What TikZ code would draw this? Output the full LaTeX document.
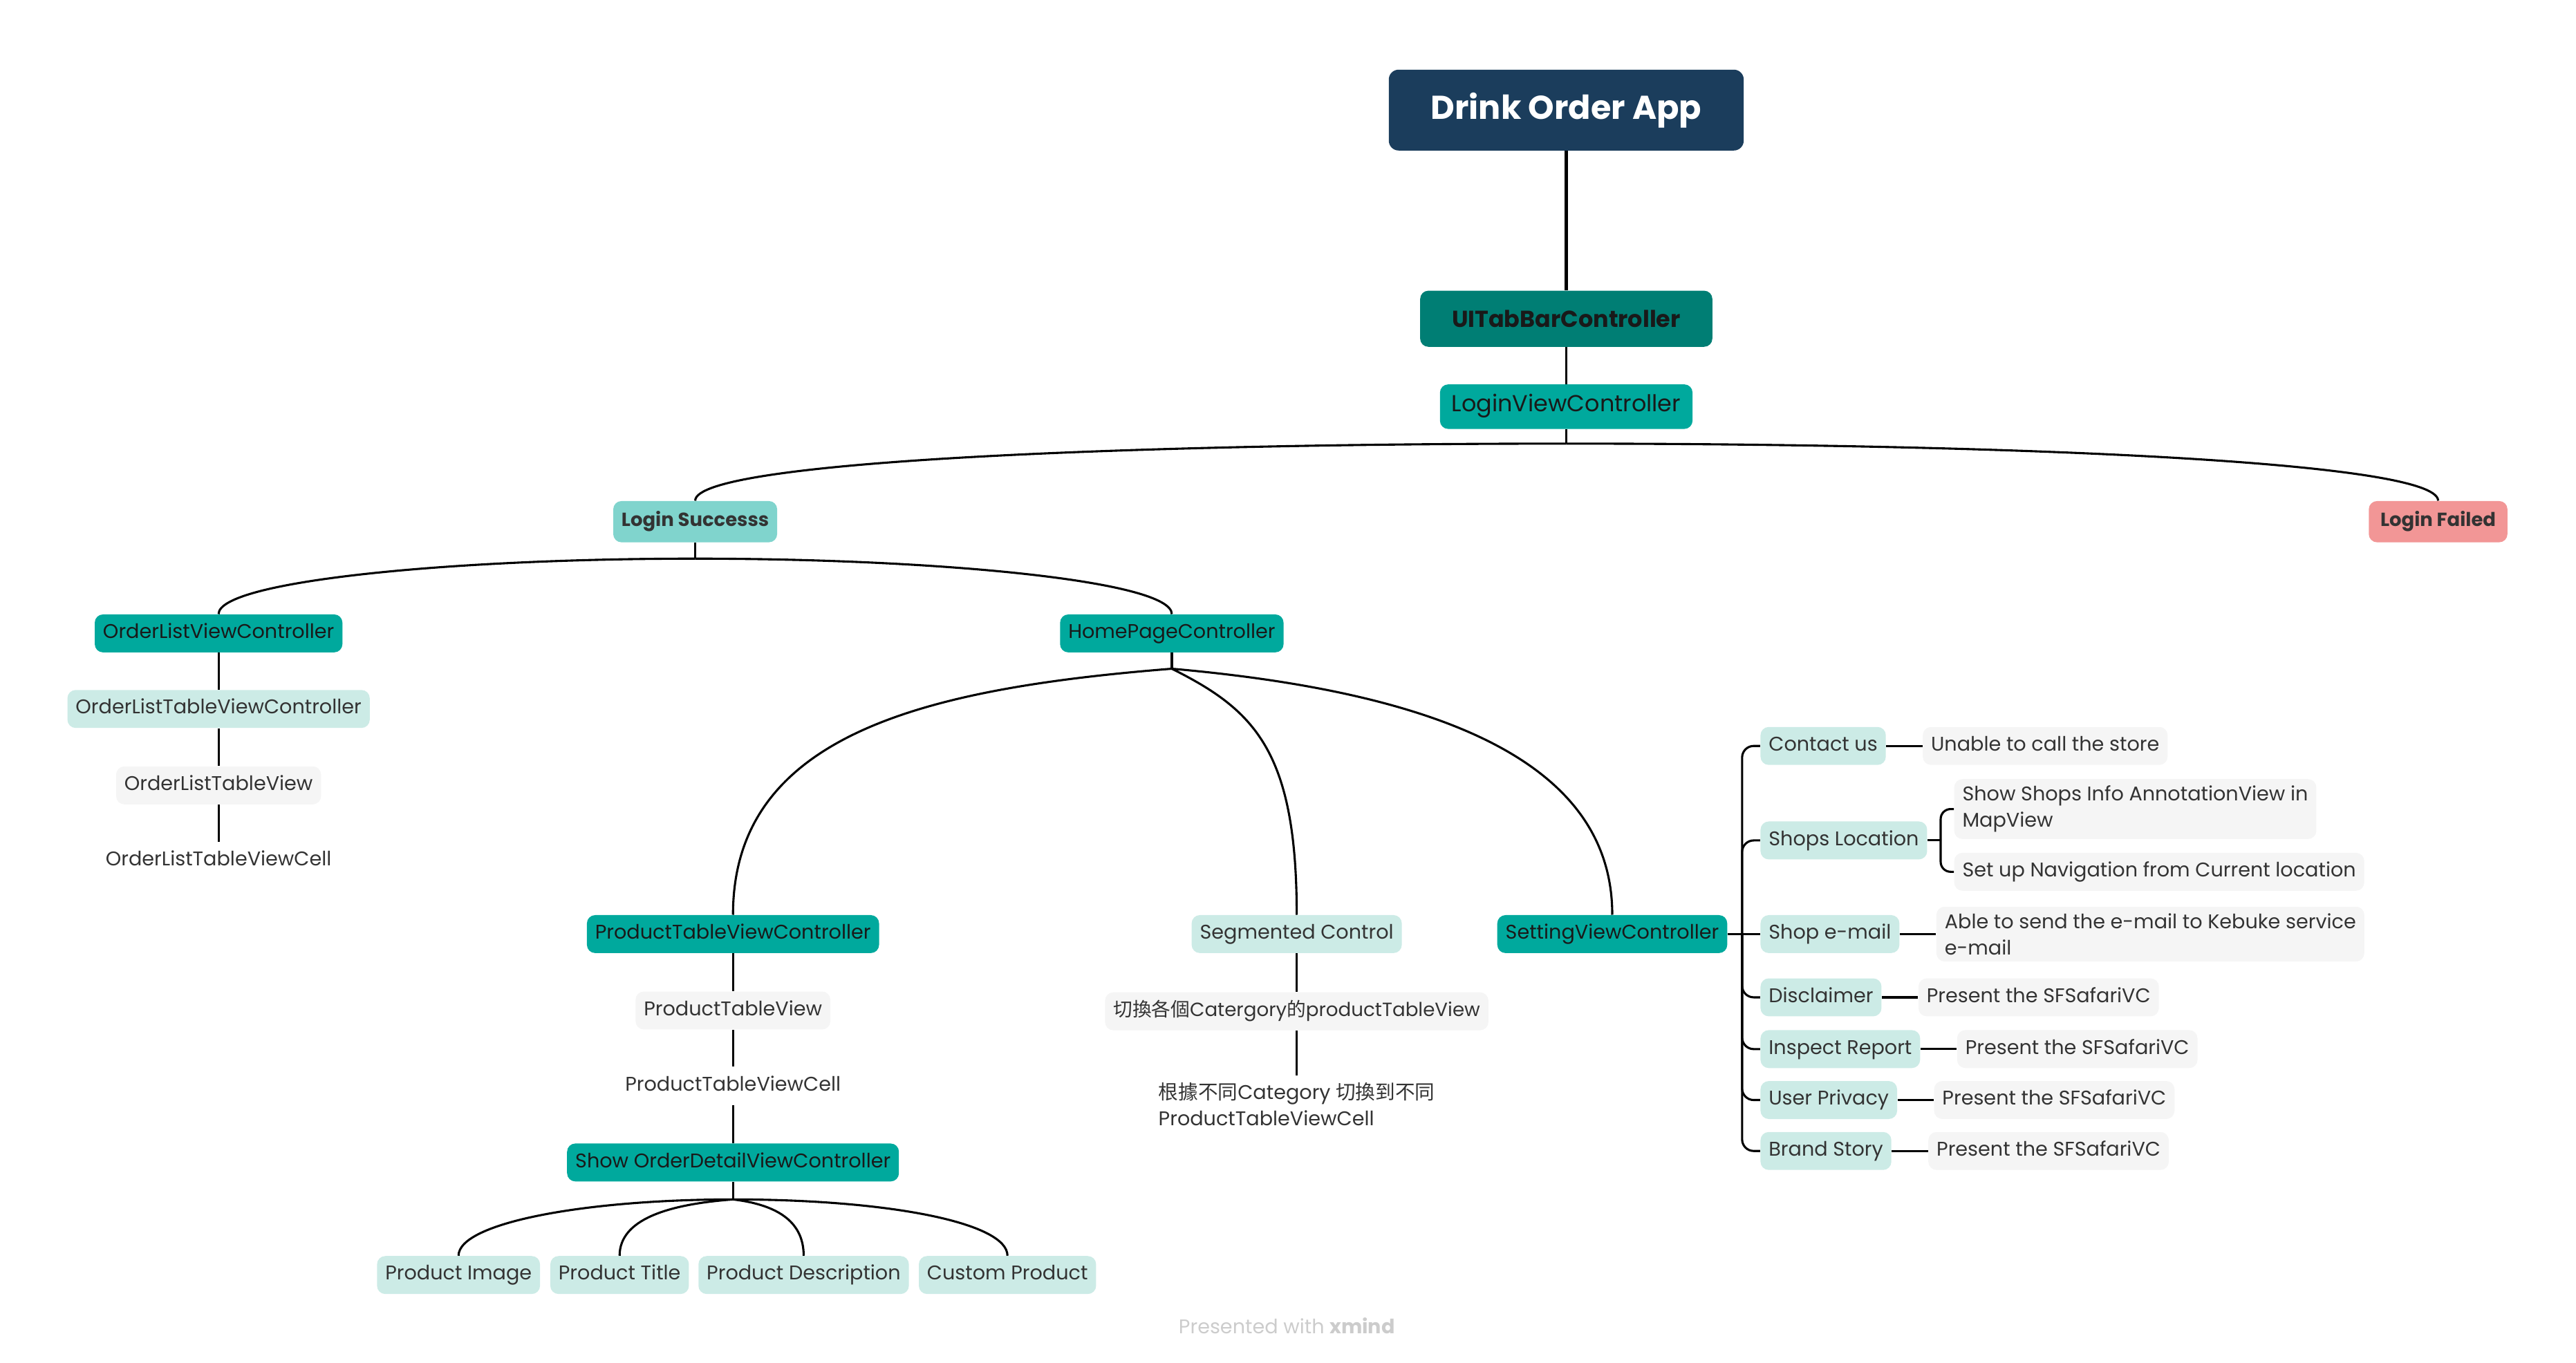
\documentclass[tikz,border=0pt]{standalone}
\usepackage{fontspec}
\setmainfont{Poppins}
\newfontfamily\cjk{Noto Sans CJK TC}
\usetikzlibrary{positioning}

\definecolor{navy}{HTML}{1B3D5C}
\definecolor{tealdark}{HTML}{007E74}
\definecolor{tealmain}{HTML}{00A99D}
\definecolor{tealsoft}{HTML}{80D4CD}
\definecolor{tealpale}{HTML}{CCEBE6}
\definecolor{rosy}{HTML}{F29696}
\definecolor{leafgrey}{HTML}{F5F5F5}
\definecolor{inktext}{HTML}{333333}

\tikzset{
	topic/.style={rounded corners=5pt, inner xsep=5pt, inner ysep=0pt, minimum height=23pt, text height=8.6pt, text depth=2.6pt, font=\fontsize{12}{14}\selectfont, text=inktext},
	ctrlbox/.style={topic, fill=tealmain, text=black!90},
	palebox/.style={topic, fill=tealpale},
	greybox/.style={topic, fill=leafgrey},
	barebox/.style={topic},
	notebox/.style={rounded corners=5pt, inner xsep=5pt, inner ysep=4pt, align=left, font=\fontsize{12}{16}\selectfont, text=inktext},
	link/.style={line width=1.3pt},
}

\begin{document}
\begin{tikzpicture}[x=0.9955pt, y=-0.9955pt]
				\useasboundingbox (0,0) rectangle (1567.4,829.5);
				
				% Junction points
				\coordinate (j0) at (953,270);
				\coordinate (j1) at (423,340);
				\coordinate (j2) at (713,407);
				\coordinate (j3) at (446,730);
				\coordinate (j4) at (1060,568.5);
				
				% Top of the tree
				\node[rounded corners=6pt, fill=navy, text=white, font=\fontsize{20}{24}\selectfont\bfseries, minimum width=215pt, minimum height=49pt] (root) at (953,67) {Drink Order App};
				\node[rounded corners=5pt, fill=tealdark, text=black!90, font=\fontsize{14}{17}\selectfont\bfseries, minimum width=177pt, minimum height=34pt] (tab) at (953,194) {UITabBarController};
				\node[ctrlbox, font=\fontsize{14}{17}\selectfont, minimum width=153pt, minimum height=27pt] (login) at (953,247.5) {LoginViewController};
				
				% Login result
				\node[topic, fill=tealsoft, font=\fontsize{11.5}{14}\selectfont\bfseries, minimum height=25pt] (ls) at (423,317.5) {Login Successs};
				\node[topic, fill=rosy, font=\fontsize{11.5}{14}\selectfont\bfseries, minimum height=25pt, inner xsep=7pt] (lf) at (1483.5,317.5) {Login Failed};
				
				% Order list branch
				\node[ctrlbox] (olvc) at (133,385.5) {OrderListViewController};
				\node[palebox] (oltvc) at (133,431.5) {OrderListTableViewController};
				\node[greybox] (oltv) at (133,478) {OrderListTableView};
				\node[barebox] (oltvcell) at (133,524) {OrderListTableViewCell};
				
				% Home page branch
				\node[ctrlbox] (hpc) at (713,385.5) {HomePageController};
				\node[ctrlbox] (ptvc) at (446,568.5) {ProductTableViewController};
				\node[greybox] (ptv) at (446,615) {ProductTableView};
				\node[barebox] (ptvcell) at (446,661) {ProductTableViewCell};
				\node[ctrlbox] (sodvc) at (446,707.5) {Show OrderDetailViewController};
				\node[palebox] (pimg) at (279,776) {Product Image};
				\node[palebox] (ptitle) at (377,776) {Product Title};
				\node[palebox] (pdesc) at (489,776) {Product Description};
				\node[palebox] (pcustom) at (613,776) {Custom Product};
				
				\node[palebox] (seg) at (789,568.5) {Segmented Control};
				\node[greybox, font=\fontsize{11.6}{14}\selectfont] (switch) at (789,615.5) {{\cjk 切換各個}Catergory{\cjk 的}productTableView};
				\node[notebox] (cellnote) at (789,672) {{\cjk 根據不同}Category {\cjk 切換到不同}\\ProductTableViewCell};
				
				% Setting branch
				\node[ctrlbox] (svc) at (981,568.5) {SettingViewController};
				\node[palebox, anchor=west] (cu) at (1071,454) {Contact us};
				\node[palebox, anchor=west] (sl) at (1071,511.5) {Shops Location};
				\node[palebox, anchor=west] (se) at (1071,568.5) {Shop e-mail};
				\node[palebox, anchor=west] (dc) at (1071,607) {Disclaimer};
				\node[palebox, anchor=west] (ir) at (1071,638.5) {Inspect Report};
				\node[palebox, anchor=west] (up) at (1071,669.5) {User Privacy};
				\node[palebox, anchor=west] (bs) at (1071,700.5) {Brand Story};
				
				\node[greybox, right=22pt of cu] (cuinfo) {Unable to call the store};
				\coordinate (j5) at ([xshift=8pt]sl.east);
				\node[notebox, fill=leafgrey, anchor=west] (slmap) at ([xshift=16pt, yshift=19pt]sl.east) {Show Shops Info AnnotationView in\\MapView};
				\node[greybox, anchor=west] (slnav) at ([xshift=16pt, yshift=-19pt]sl.east) {Set up Navigation from Current location};
				\node[notebox, fill=leafgrey, right=22pt of se] (seinfo) {Able to send the e-mail to Kebuke service\\e-mail};
				\node[greybox, right=22pt of dc] (dcinfo) {Present the SFSafariVC};
				\node[greybox, right=22pt of ir] (irinfo) {Present the SFSafariVC};
				\node[greybox, right=22pt of up] (upinfo) {Present the SFSafariVC};
				\node[greybox, right=22pt of bs] (bsinfo) {Present the SFSafariVC};
				
				\node[text=black!20, font=\fontsize{12}{14}\selectfont] (credit) at (783,807) {Presented with \textbf{xmind}};
				
				% Connectors
				\draw[line width=2.2pt] (root) -- (tab);
				\draw[link] (tab) -- (login);
				\draw[link] (login) -- (j0);
				\draw[link] (j0) .. controls +(-250,0) and +(0,-25) .. (ls.north);
				\draw[link] (j0) .. controls +(250,0) and +(0,-25) .. (lf.north);
				
				\draw[link] (ls) -- (j1);
				\draw[link] (j1) .. controls +(-150,0) and +(0,-20) .. (olvc.north);
				\draw[link] (j1) .. controls +(150,0) and +(0,-20) .. (hpc.north);
				\draw[link] (olvc) -- (oltvc);
				\draw[link] (oltvc) -- (oltv);
				\draw[link] (oltv) -- (oltvcell);
				
				\draw[link] (hpc) -- (j2);
				\draw[link] (j2) .. controls +(-150,12) and +(0,-110) .. (ptvc.north);
				\draw[link] (j2) .. controls +(50,25) and +(0,-100) .. (seg.north);
				\draw[link] (j2) .. controls +(170,15) and +(0,-90) .. (svc.north);
				\draw[link] (ptvc) -- (ptv);
				\draw[link] (ptv) -- (ptvcell);
				\draw[link] (ptvcell) -- (sodvc);
				\draw[link] (sodvc) -- (j3);
				\draw[link] (j3) .. controls +(-90,0) and +(0,-20) .. (pimg.north);
				\draw[link] (j3) .. controls +(-40,3) and +(0,-22) .. (ptitle.north);
				\draw[link] (j3) .. controls +(25,3) and +(0,-22) .. (pdesc.north);
				\draw[link] (j3) .. controls +(95,0) and +(0,-20) .. (pcustom.north);
				\draw[link] (seg) -- (switch);
				\draw[link] (switch) -- (cellnote);
				
				\draw[link] (svc.east) -- (se.west);
				\foreach \kid in {cu, sl, dc, ir, up, bs}
					\draw[link, rounded corners=7pt] (j4) |- (\kid.west);
				\draw[link] (sl.east) -- (j5);
				\draw[link, rounded corners=6pt] (j5) |- (slmap.west);
				\draw[link, rounded corners=6pt] (j5) |- (slnav.west);
				\draw[link] (cu) -- (cuinfo);
				\draw[link] (se) -- (seinfo);
				\draw[link] (dc) -- (dcinfo);
				\draw[link] (ir) -- (irinfo);
				\draw[link] (up) -- (upinfo);
				\draw[link] (bs) -- (bsinfo);
			\end{tikzpicture}
\end{document}
